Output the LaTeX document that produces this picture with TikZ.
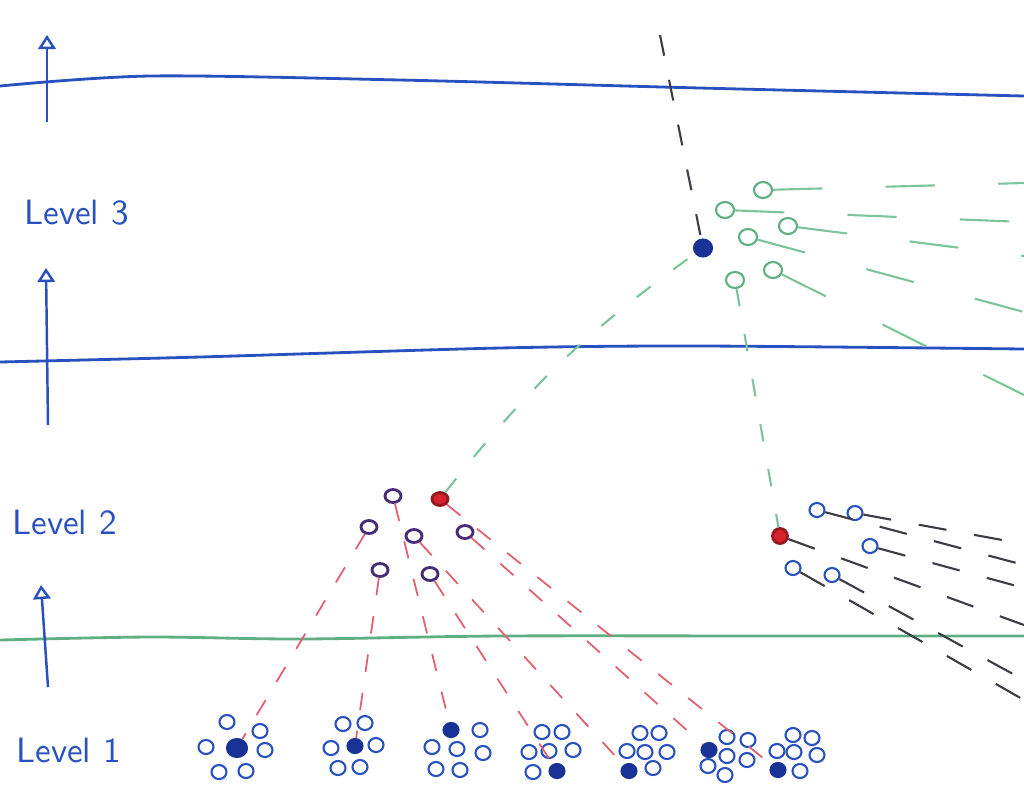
\documentclass[tikz,border=0pt]{standalone}
\usepackage{xcolor}
\usepackage{tikz}
\usetikzlibrary{arrows.meta,shapes.geometric}

\definecolor{penblue}{RGB}{40,80,190}
\definecolor{pendark}{RGB}{25,50,150}
\definecolor{penpurple}{RGB}{70,45,120}
\definecolor{penred}{RGB}{215,35,45}
\definecolor{penpink}{RGB}{225,95,110}
\definecolor{pengreen}{RGB}{95,175,130}
\definecolor{penlight}{RGB}{125,195,155}
\definecolor{pengray}{RGB}{60,60,70}

\begin{document}
\begin{tikzpicture}[
    x=0.01cm, y=-0.01cm,
    member/.style={draw=penblue, ellipse, line width=0.6pt, minimum width=0.15cm, minimum height=0.14cm, inner sep=0pt},
    leader/.style={member, fill=pendark, draw=pendark},
    subnode/.style={draw=penpurple, ellipse, line width=0.8pt, minimum width=0.16cm, minimum height=0.13cm, inner sep=0pt},
    redhead/.style={subnode, fill=penred, draw=penred!70!black},
    topnode/.style={draw=pengreen, ellipse, line width=0.6pt, minimum width=0.18cm, minimum height=0.16cm, inner sep=0pt},
    redlink/.style={draw=penpink, line width=0.5pt, dash pattern=on 5pt off 6pt},
    greenlink/.style={draw=penlight, line width=0.6pt, dash pattern=on 5pt off 8pt},
    greenfan/.style={draw=penlight, line width=0.6pt, dash pattern=on 14pt off 18pt},
    blackfan/.style={draw=pengray, line width=0.6pt, dash pattern=on 8pt off 8pt},
    levelline/.style={line width=0.8pt},
    levelarrow/.style={penblue, line width=0.7pt, -{Triangle[open, length=4pt, width=5pt]}},
    levellabel/.style={penblue, font=\sffamily, anchor=west}
]
    \useasboundingbox (0,0) rectangle (1024,796);

    % level boundaries
    \draw[levelline, penblue] plot[smooth] coordinates {(0,86) (150,76) (400,80) (700,88) (1024,96)};
    \draw[levelline, penblue] plot[smooth] coordinates {(0,362) (200,357) (500,348) (700,346) (1024,349)};
    \draw[levelline, pengreen] plot[smooth] coordinates {(0,640) (150,637) (300,639) (500,636) (800,636) (1024,636)};

    \draw[levelarrow] (47,122) -- (47,35);
    \draw[levelarrow] (48,425) -- (46,268);
    \draw[levelarrow] (48,687) -- (41,585);

    \node[levellabel] (lab3) at (12,213) {Level 3};
    \node[levellabel] (lab2) at (0,522) {Level 2};
    \node[levellabel] (lab1) at (4,750) {Level 1};

    % level 1 clusters
    \node[leader, minimum width=0.2cm, minimum height=0.18cm] (L1) at (237,748) {};
    \node[leader] (L2) at (355,746) {};
    \node[leader] (L3) at (451,730) {};
    \node[leader] (L4) at (557,771) {};
    \node[leader] (L5) at (629,771) {};
    \node[leader] (L6) at (709,750) {};
    \node[leader] (L7) at (778,770) {};
    \foreach \x/\y [count=\i] in {227/722, 206/747, 260/731, 265/750, 219/772, 246/771,
                                 343/724, 365/723, 331/748, 376/745, 338/768, 360/767,
                                 480/730, 432/747, 457/749, 483/753, 436/769, 460/770,
                                 542/732, 562/732, 529/752, 549/751, 573/750, 533/772,
                                 640/733, 659/733, 627/751, 645/752, 667/752, 653/768,
                                 727/737, 748/740, 727/756, 747/760, 708/766, 725/775,
                                 793/735, 812/738, 777/751, 794/752, 817/755, 800/771} {
        \node[member] (m\i) at (\x,\y) {};
    }

    % level 2, left
    \node[redhead] (H2) at (440,499) {};
    \node[subnode] (sa) at (393,496) {};
    \node[subnode] (sb) at (369,527) {};
    \node[subnode] (sc) at (414,536) {};
    \node[subnode] (sd) at (465,532) {};
    \node[subnode] (se) at (380,570) {};
    \node[subnode] (sf) at (430,574) {};

    \draw[redlink] (sb) -- (L1);
    \draw[redlink] (se) -- (L2);
    \draw[redlink] (sa) -- (L3);
    \draw[redlink] (sf) -- (L4);
    \draw[redlink] (sc) -- (L5);
    \draw[redlink] (sd) -- (L6);
    \draw[redlink] (H2) -- (L7);

    % level 2, right
    \node[redhead, minimum width=0.15cm, minimum height=0.15cm] (Q) at (780,536) {};
    \node[member] (r1) at (817,510) {};
    \node[member] (r2) at (855,513) {};
    \node[member] (r3) at (870,546) {};
    \node[member] (r4) at (832,575) {};
    \node[member] (r5) at (793,568) {};

    \foreach \n/\y [count=\i] in {r2/544, r1/565, r3/588, Q/625, r4/680, r5/700} {
        \coordinate (bx\i) at (1024,\y);
        \draw[blackfan] (\n) -- (bx\i);
    }

    % level 3
    \node[leader, minimum width=0.18cm, minimum height=0.17cm] (B) at (703,248) {};
    \node[topnode] (g1) at (725,210) {};
    \node[topnode] (g2) at (763,190) {};
    \node[topnode] (g3) at (748,237) {};
    \node[topnode] (g4) at (788,226) {};
    \node[topnode] (g5) at (735,280) {};
    \node[topnode] (g6) at (773,270) {};

    \foreach \n/\y [count=\i] in {g2/183, g1/222, g4/256, g3/312, g6/395} {
        \coordinate (gx\i) at (1024,\y);
        \draw[greenfan] (\n) -- (gx\i);
    }

    \coordinate (up) at (660,35);
    \draw[blackfan, dash pattern=on 6pt off 7pt] (up) -- (B);
    \draw[greenlink] (H2) to[bend left=8] (B);
    \draw[greenlink] (g5) -- (Q);
\end{tikzpicture}
\end{document}
